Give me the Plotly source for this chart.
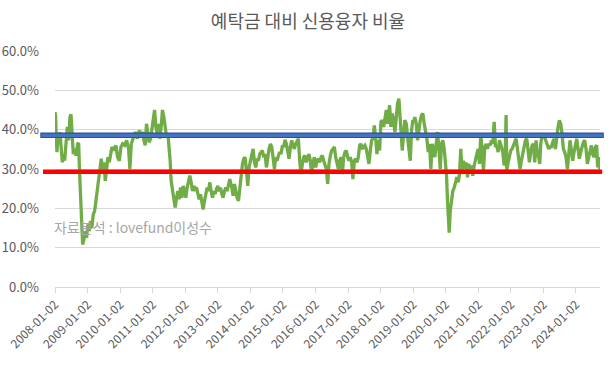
import numpy as np
import pandas as pd
import plotly.graph_objects as go

# ---------------- data ----------------
title_text = "예탁금 대비 신용융자 비율"
source_text = "자료분석 : lovefund이성수"
start_date = "2008-01-02"

# time in years since 2008-01-02
years_since_2008 = [
    0.0, 0.02, 0.041, 0.061, 0.092, 0.123, 0.153, 0.184, 0.225, 0.256,
    0.297, 0.337, 0.378, 0.419, 0.46, 0.491, 0.52, 0.562, 0.603, 0.644,
    0.695, 0.726, 0.757, 0.787, 0.818, 0.849, 0.89, 0.93, 0.97, 1.01,
    1.05, 1.09, 1.13, 1.176, 1.217, 1.258, 1.299, 1.339, 1.38, 1.42,
    1.462, 1.503, 1.544, 1.585, 1.626, 1.667, 1.707, 1.748, 1.81, 1.87,
    1.923, 1.974, 2.025, 2.077, 2.138, 2.2, 2.26, 2.30, 2.343, 2.384,
    2.425, 2.466, 2.527, 2.589, 2.65, 2.71,
    2.73, 2.77, 2.81, 2.85, 2.89, 2.935, 2.975, 3.016, 3.058, 3.098,
    3.138, 3.18, 3.22, 3.26, 3.30, 3.344, 3.383, 3.426, 3.466, 3.506,
    3.537, 3.567, 3.61, 3.65, 3.69, 3.733, 3.773, 3.813, 3.856, 3.896,
    3.936, 3.979, 4.018, 4.058, 4.101, 4.141, 4.181, 4.224, 4.264, 4.304,
    4.347, 4.387, 4.426, 4.469, 4.509, 4.549, 4.592, 4.632, 4.672, 4.715,
    4.755, 4.794, 4.837, 4.877, 4.917, 4.96, 5.0, 5.04, 5.083, 5.123,
    5.163, 5.206, 5.245, 5.285, 5.328,
    5.368, 5.429, 5.47, 5.512, 5.552, 5.592, 5.635, 5.675, 5.715, 5.758,
    5.798, 5.837, 5.88, 5.92, 5.96, 6.003, 6.043, 6.083, 6.126, 6.166,
    6.206, 6.248, 6.288, 6.328, 6.371, 6.411, 6.451, 6.494, 6.534, 6.573,
    6.616, 6.656, 6.696, 6.739, 6.779, 6.819, 6.862, 6.902, 6.942, 6.985,
    7.025, 7.064, 7.107, 7.147, 7.187, 7.23, 7.27, 7.31, 7.353, 7.393,
    7.433, 7.475, 7.515, 7.555, 7.598, 7.638, 7.678, 7.721, 7.761, 7.8,
    7.843, 7.883, 7.923, 7.966, 8.006, 8.046, 8.089, 8.129,
    8.17, 8.211, 8.252, 8.292, 8.334, 8.374, 8.414, 8.457, 8.497, 8.537,
    8.58, 8.62, 8.66, 8.702, 8.742, 8.782, 8.825, 8.865, 8.905, 8.948,
    8.988, 9.028, 9.07, 9.11, 9.15, 9.193, 9.233, 9.273, 9.316, 9.356,
    9.396, 9.439, 9.479, 9.518, 9.561, 9.601, 9.641, 9.684, 9.724, 9.764,
    9.807, 9.847, 9.887, 9.93, 9.97, 10.01, 10.052, 10.092, 10.132, 10.175,
    10.215, 10.255, 10.276, 10.316, 10.359, 10.399, 10.439, 10.482, 10.521, 10.561,
    10.592, 10.623, 10.665, 10.706, 10.745, 10.788, 10.828, 10.868, 10.911, 10.951,
    10.99,
    11.012, 11.052, 11.095, 11.135, 11.175, 11.218, 11.258, 11.298, 11.34, 11.38,
    11.42, 11.463, 11.503, 11.543, 11.586, 11.626, 11.666, 11.709, 11.748, 11.788,
    11.831, 11.871, 11.911, 11.954, 11.994, 12.025, 12.055, 12.086, 12.107, 12.138,
    12.178, 12.218, 12.261, 12.301, 12.341, 12.384, 12.423, 12.463, 12.506, 12.546,
    12.586, 12.629, 12.669, 12.709, 12.752, 12.791, 12.831, 12.874, 12.914, 12.954,
    12.997, 13.037, 13.077, 13.12, 13.16, 13.199, 13.242, 13.282, 13.322, 13.365,
    13.405, 13.445, 13.488, 13.528, 13.567, 13.61, 13.65,
    13.711, 13.752, 13.793, 13.824, 13.854, 13.875, 13.916, 13.957, 13.998, 14.039,
    14.079, 14.12, 14.161, 14.202, 14.243, 14.284, 14.325, 14.366, 14.407, 14.448,
    14.488, 14.529, 14.57, 14.611, 14.652, 14.693, 14.734, 14.775, 14.816, 14.857,
    14.887, 14.918, 14.959, 15.0, 15.041, 15.082, 15.122, 15.163, 15.204, 15.245,
    15.286, 15.327, 15.368, 15.409, 15.45, 15.49, 15.531, 15.572, 15.613, 15.654,
    15.695, 15.736, 15.777, 15.818, 15.859, 15.9, 15.94, 15.981, 16.022, 16.063,
    16.104, 16.145, 16.186, 16.227, 16.268, 16.309, 16.35, 16.391, 16.431, 16.472,
    16.513, 16.554, 16.595, 16.636, 16.666, 16.697, 16.718, 16.738,
]

# credit loan / deposit ratio, in percent
credit_ratio = [
    44.5, 43.2, 37.3, 34.3, 39.0, 36.4, 39.4, 35.1, 31.7, 33.8,
    32.1, 36.4, 40.7, 37.3, 43.2, 43.9, 38.1, 33.8, 35.1, 33.4,
    36.4, 36.6, 28.7, 21.9, 14.2, 10.8, 12.1, 14.2, 12.5, 15.9,
    14.2, 16.8, 15.0, 18.5, 19.3, 21.9, 24.4, 27.9, 30.9, 32.6,
    29.6, 31.7, 27.0, 30.4, 33.0, 31.7, 34.3, 35.6, 34.7, 36.0,
    33.0, 32.1, 35.6, 36.4, 36.0, 37.3, 35.1, 30.0, 36.4, 37.3,
    38.1, 39.4, 37.7, 39.8, 38.5, 39.4,
    37.3, 36.0, 41.5, 39.0, 36.8, 37.7, 39.8, 42.4, 45.0, 40.7,
    39.0, 41.5, 37.7, 40.7, 45.0, 43.2, 40.7, 38.1, 39.0, 35.6,
    32.1, 27.0, 24.4, 21.9, 20.2, 22.7, 24.4, 22.3, 25.3, 22.7,
    25.7, 24.4, 22.7, 25.3, 27.0, 28.3, 26.6, 24.4, 25.7, 24.9,
    25.3, 23.6, 22.3, 23.6, 21.0, 19.7, 21.9, 24.4, 25.3, 24.4,
    26.6, 24.4, 22.7, 24.4, 23.6, 24.9, 25.7, 24.4, 25.3, 23.6,
    22.7, 24.4, 25.3, 24.4, 26.6,
    27.4, 25.3, 23.2, 26.2, 24.4, 22.7, 21.9, 25.3, 27.9, 31.3,
    32.6, 33.0, 29.6, 25.7, 30.4, 32.1, 33.0, 35.1, 31.7, 30.4,
    32.6, 32.1, 33.8, 34.3, 34.7, 33.0, 33.8, 30.4, 33.8, 35.1,
    36.4, 35.6, 33.0, 30.0, 33.0, 32.1, 33.4, 34.3, 33.8, 36.0,
    35.6, 37.4, 36.4, 34.3, 32.6, 35.6, 37.3, 36.0, 35.1, 36.4,
    37.3, 37.7, 32.1, 28.7, 31.3, 33.0, 33.4, 31.7, 33.0, 33.8,
    32.1, 28.7, 31.7, 33.0, 30.4, 32.1, 32.6, 31.7,
    33.0, 33.4, 32.1, 31.3, 30.0, 26.2, 31.3, 33.4, 34.7, 35.1,
    35.6, 33.0, 31.7, 30.0, 32.1, 33.0, 28.7, 33.0, 34.3, 34.7,
    33.0, 32.1, 33.0, 31.7, 27.4, 32.1, 32.6, 31.7, 33.0, 36.0,
    36.4, 35.1, 35.6, 36.0, 35.1, 33.0, 31.3, 34.7, 37.3, 37.7,
    41.1, 38.1, 33.8, 37.3, 34.7, 42.0, 42.4, 40.7, 42.8, 45.0,
    41.5, 45.0, 46.2, 40.7, 44.1, 42.4, 39.4, 43.2, 46.7, 47.9,
    44.1, 37.7, 34.7, 39.0, 42.4, 41.5, 39.0, 35.1, 32.1, 39.8,
    42.4,
    42.0, 43.2, 41.5, 37.3, 40.7, 42.4, 43.7, 44.1, 41.5, 39.8,
    37.7, 34.3, 36.4, 30.0, 36.4, 34.7, 33.0, 36.4, 39.4, 35.6,
    30.0, 36.4, 37.3, 35.1, 31.3, 28.3, 21.9, 15.0, 13.8, 19.3,
    21.9, 24.4, 25.3, 26.6, 27.9, 26.6, 28.7, 35.1, 28.7, 32.1,
    30.0, 31.7, 27.9, 31.3, 30.0, 30.9, 28.3, 30.9, 33.0, 33.8,
    35.1, 31.3, 39.0, 34.7, 29.6, 35.6, 36.4, 35.1, 36.4, 36.0,
    37.3, 36.4, 42.0, 35.6, 36.0, 34.3, 37.3,
    35.6, 34.3, 30.9, 33.0, 43.7, 29.6, 31.7, 33.0, 34.7, 35.1,
    36.0, 37.3, 37.7, 35.1, 33.0, 30.0, 32.1, 33.8, 35.6, 37.3,
    37.7, 33.8, 31.7, 34.3, 36.0, 36.4, 31.7, 37.3, 33.8, 33.0,
    31.3, 36.4, 38.5, 39.0, 38.1, 37.3, 36.0, 35.1, 35.6, 35.6,
    36.8, 37.7, 35.1, 39.0, 40.7, 42.4, 41.5, 39.0, 35.1, 34.3,
    33.0, 30.0, 34.7, 37.3, 34.7, 32.1, 34.3, 36.4, 37.7, 35.1,
    32.6, 34.3, 35.6, 36.8, 37.3, 35.1, 31.3, 33.0, 35.1, 36.0,
    33.8, 33.0, 35.6, 36.0, 30.4, 33.0, 32.1, 29.6,
]

upper_level = 38.55   # blue reference line (%)
lower_level = 29.3    # red reference line (%)

tick_labels = [f"{y}-01-02" for y in range(2008, 2025)]
y_ticks = [0, 10, 20, 30, 40, 50, 60]

assert len(years_since_2008) == len(credit_ratio)

# ---------------- build figure ----------------
dates = pd.Timestamp(start_date) + pd.to_timedelta(np.array(years_since_2008) * 365.25, unit="D")

GREEN = "#70AD47"
GRID = "#D9D9D9"
TXT = "#595959"
FONT = "Noto Sans CJK KR, Noto Sans, sans-serif"

fig = go.Figure()
fig.add_trace(go.Scatter(
    x=dates, y=credit_ratio, mode="lines",
    line=dict(color=GREEN, width=3.3),
    hoverinfo="skip", showlegend=False,
))

# reference lines (drawn above the series, slightly wider than the plot area)
fig.add_shape(type="line", xref="paper", yref="y", x0=-0.027, x1=1.007,
              y0=upper_level, y1=upper_level, line=dict(color="#2F528F", width=5.5), layer="above")
fig.add_shape(type="line", xref="paper", yref="y", x0=-0.025, x1=1.005,
              y0=upper_level, y1=upper_level, line=dict(color="#4472C4", width=3.2), layer="above")
fig.add_shape(type="line", xref="paper", yref="y", x0=-0.022, x1=1.004,
              y0=lower_level, y1=lower_level, line=dict(color="#FF0000", width=4.5), layer="above")

fig.add_annotation(
    text=source_text, xref="paper", yref="paper", x=-0.006, y=0.255,
    xanchor="left", yanchor="middle", showarrow=False,
    font=dict(family=FONT, size=14, color="#A6A6A6"),
)

fig.update_layout(
    width=616, height=365,
    margin=dict(l=55, r=16, t=51, b=78),
    paper_bgcolor="white", plot_bgcolor="white",
    font=dict(family=FONT, color=TXT, size=13),
    title=dict(text=title_text, x=0.5, xref="container", xanchor="center",
               y=1 - 22 / 365, yanchor="middle",
               font=dict(family=FONT, size=18, color=TXT)),
    xaxis=dict(
        type="date", automargin=False,
        range=[dates[0], dates[-1]],
        tickvals=pd.to_datetime(tick_labels), ticktext=tick_labels,
        tickangle=-45, showgrid=False, ticklabeloverflow="allow",
        showline=True, linecolor=GRID, linewidth=1,
        ticks="outside", ticklen=5, tickcolor=GRID,
        tickfont=dict(size=12, color=TXT),
        zeroline=False,
    ),
    yaxis=dict(
        range=[0, 60], tickvals=y_ticks, automargin=False,
        ticktext=[f"{v:.1f}%" for v in y_ticks],
        showgrid=True, gridcolor=GRID, gridwidth=1,
        zeroline=False, showline=False,
        tickfont=dict(size=13, color=TXT),
        ticklabelstandoff=15,
    ),
)

# remove the browser's default page margin so the figure sits at the window's corner
fig.write_html("out.html", config={"displayModeBar": False},
               post_script="document.body.style.margin='0px';")
